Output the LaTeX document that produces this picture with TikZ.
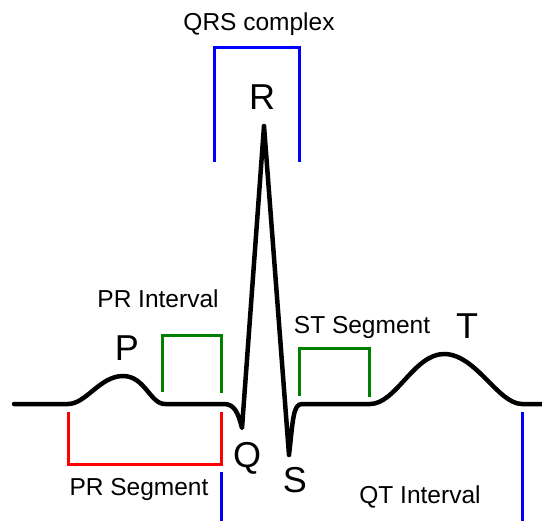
\documentclass[tikz,border=0pt]{standalone}
\usepackage{fontspec}
\setmainfont{Liberation Sans}
\definecolor{ecggreen}{RGB}{0,128,0}
\begin{document}
\begin{tikzpicture}[x=1bp,y=-1bp,
  lbl/.style={inner sep=0pt,anchor=base,font=\fontsize{24.5bp}{28bp}\selectfont},
  wave/.style={inner sep=0pt,anchor=base,font=\fontsize{36bp}{40bp}\selectfont},
  ecg/.style={line width=4.5bp,black,line join=round,line cap=round},
  qrsbr/.style={line width=3bp,blue},
  grbr/.style={line width=3bp,ecggreen},
  redbr/.style={line width=3bp,red}]
\useasboundingbox (0,0) rectangle (542,521);
% ECG trace
\coordinate (start) at (14,404);
\coordinate (pst) at (68,404);
\coordinate (ppk) at (123,376);
\coordinate (pend) at (165,404);
\coordinate (qst) at (224,404);
\coordinate (qmin) at (242,428);
\coordinate (rpk) at (264,126);
\coordinate (smin) at (289,455);
\coordinate (sst) at (302,404);
\coordinate (tst) at (370,404);
\coordinate (tpk) at (444,354);
\coordinate (tend) at (522,404);
\coordinate (fin) at (542,404);
\draw[ecg] (start) -- (pst)
  .. controls (86,404) and (100,376) .. (ppk)
  .. controls (145,376) and (150,404) .. (pend)
  -- (qst) .. controls (234,404) and (238,412) .. (qmin)
  -- (rpk) -- (smin)
  .. controls (293,420) and (293,404) .. (sst)
  -- (tst) .. controls (396,404) and (414,354) .. (tpk)
  .. controls (476,354) and (498,404) .. (tend) -- (fin);
% QRS bracket
\coordinate (q1) at (214,162);
\coordinate (q2) at (214,48);
\coordinate (q3) at (299,48);
\coordinate (q4) at (299,162);
\draw[qrsbr] (q1) -- (q2) -- (q3) -- (q4);
% PR interval bracket
\coordinate (p1) at (162,392);
\coordinate (p2) at (162,335);
\coordinate (p3) at (221.5,335);
\coordinate (p4) at (221.5,393);
\draw[grbr] (p1) -- (p2) -- (p3) -- (p4);
% ST segment bracket
\coordinate (s1) at (299,396);
\coordinate (s2) at (299,348);
\coordinate (s3) at (369,348);
\coordinate (s4) at (369,397);
\draw[grbr] (s1) -- (s2) -- (s3) -- (s4);
% PR segment bracket
\coordinate (r1) at (68,412);
\coordinate (r2) at (68,464);
\coordinate (r3) at (221.5,464);
\coordinate (r4) at (221.5,412);
\draw[redbr] (r1) -- (r2) -- (r3) -- (r4);
% QT interval ticks
\coordinate (t1) at (221.5,472);
\coordinate (t2) at (221.5,521);
\coordinate (t3) at (522,412);
\coordinate (t4) at (522,521);
\draw[qrsbr] (t1) -- (t2);
\draw[qrsbr] (t3) -- (t4);
% labels
\node[lbl] (lqrs) at (259,31) {QRS complex};
\node[lbl] (lpri) at (158,307) {PR Interval};
\node[lbl] (lprs) at (139,495) {PR Segment};
\node[lbl] (lsts) at (362,333) {ST Segment};
\node[lbl] (lqti) at (420,503) {QT Interval};
\node[wave] (lP) at (127,360) {P};
\node[wave] (lR) at (262,110) {R};
\node[wave] (lQ) at (247,467) {Q};
\node[wave] (lS) at (295,492) {S};
\node[wave] (lT) at (467,338) {T};
\end{tikzpicture}
\end{document}
